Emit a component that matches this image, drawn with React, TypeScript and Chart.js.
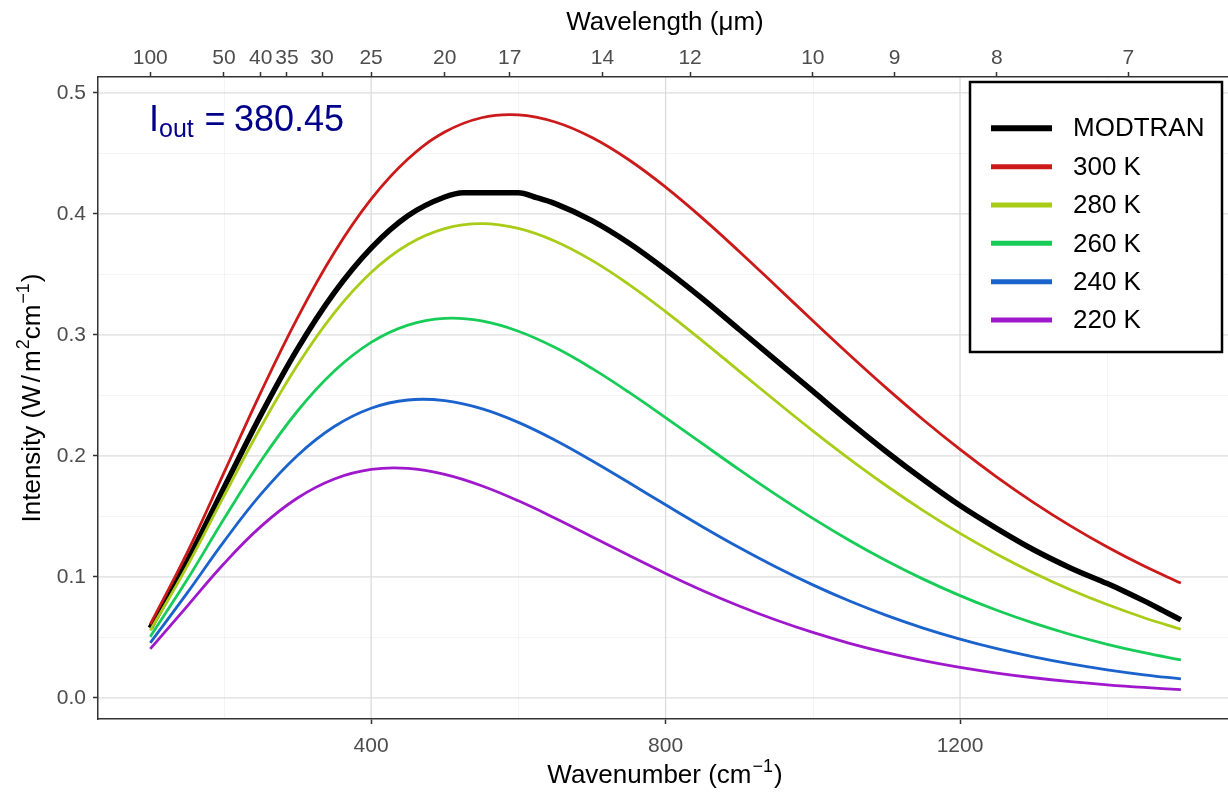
import { useEffect, useRef } from "react";
import { Chart, registerables } from "chart.js";

Chart.register(...registerables);

const FONT = "'Liberation Sans', Arial, Helvetica, sans-serif";

// Wavenumber grid (cm^-1) for the blackbody curves
const wavenumbers = [100, 150, 200, 250, 300, 350, 400, 450, 500, 550, 600, 650, 700, 750, 800, 850, 900, 950, 1000, 1050, 1100, 1150, 1200, 1250, 1300, 1350, 1400, 1450, 1500];

// Intensity (W/m^2 cm^-1)
const t300 = [0.0608, 0.11991, 0.18597, 0.25235, 0.31418, 0.36812, 0.41218, 0.44539, 0.46767, 0.47953, 0.4819, 0.47601, 0.46318, 0.44482, 0.42219, 0.39658, 0.36902, 0.34049, 0.31175, 0.28344, 0.25605, 0.22994, 0.20538, 0.18252, 0.16144, 0.14219, 0.12473, 0.109, 0.09492];
const t280 = [0.0557, 0.10873, 0.1668, 0.22372, 0.27514, 0.31828, 0.35164, 0.37477, 0.38794, 0.392, 0.38807, 0.3775, 0.36165, 0.34185, 0.3193, 0.2951, 0.27015, 0.24518, 0.2208, 0.19742, 0.17537, 0.15486, 0.136, 0.11884, 0.10335, 0.08949, 0.07718, 0.0663, 0.05676];
const t260 = [0.05062, 0.09763, 0.14786, 0.19562, 0.23715, 0.27022, 0.29391, 0.30818, 0.3137, 0.31157, 0.30306, 0.28956, 0.27237, 0.25274, 0.23169, 0.21012, 0.18872, 0.16802, 0.14842, 0.13016, 0.1134, 0.0982, 0.08457, 0.07246, 0.06179, 0.05246, 0.04436, 0.03737, 0.03137];
const t240 = [0.04556, 0.08663, 0.12921, 0.16819, 0.20043, 0.22432, 0.23945, 0.24626, 0.24571, 0.23909, 0.22774, 0.21301, 0.19608, 0.17801, 0.15962, 0.14156, 0.12432, 0.10822, 0.09345, 0.08011, 0.06822, 0.05774, 0.0486, 0.0407, 0.03392, 0.02814, 0.02326, 0.01914, 0.0157];
const t220 = [0.04053, 0.07575, 0.11092, 0.14158, 0.16525, 0.18097, 0.18885, 0.18972, 0.18479, 0.17542, 0.16294, 0.14855, 0.13325, 0.11784, 0.10291, 0.08887, 0.07599, 0.06439, 0.05413, 0.04516, 0.03743, 0.03084, 0.02526, 0.02059, 0.0167, 0.01348, 0.01084, 0.00869, 0.00693];

// MODTRAN spectrum
const modtranWavenumbers = [100, 150, 200, 250, 300, 350, 400, 450, 500, 525, 550, 575, 600, 625, 650, 700, 750, 800, 850, 900, 950, 1000, 1050, 1100, 1150, 1200, 1250, 1300, 1350, 1400, 1425, 1450, 1475, 1500];
const modtranIntensity = [0.0577, 0.1127, 0.1735, 0.2337, 0.2885, 0.335, 0.3718, 0.3985, 0.414, 0.4176, 0.4176, 0.4176, 0.4176, 0.4135, 0.4085, 0.3945, 0.376, 0.354, 0.33, 0.3045, 0.279, 0.2535, 0.228, 0.2035, 0.1805, 0.159, 0.14, 0.1225, 0.1075, 0.0945, 0.0876, 0.0802, 0.0724, 0.0645];

const seriesLabels = ["MODTRAN", "300 K", "280 K", "260 K", "240 K", "220 K"];
const seriesColors = ["#000000", "#CC1A1A", "#A8CC18", "#18CC58", "#1A62CC", "#A018CC"];

const xMajorTicks = [400, 800, 1200];
const xMinorGrid = [200, 600, 1000, 1400];
const yMajorTicks = [0, 0.1, 0.2, 0.3, 0.4, 0.5];
const yMinorGrid = [0.05, 0.15, 0.25, 0.35, 0.45];
const wavelengthTicks = [100, 50, 40, 35, 30, 25, 20, 17, 14, 12, 10, 9, 8, 7];
const outgoingFlux = "380.45";

const X_MIN = 29;
const X_MAX = 1564;
const Y_MIN = -0.0174;
const Y_MAX = 0.5132;

type Seg = { t: string; size: number; dy?: number; dx?: number };

function drawRich(ctx: CanvasRenderingContext2D, segs: Seg[], x: number, y: number, align: "left" | "center") {
  let total = 0;
  const widths = segs.map((s) => {
    ctx.font = `${s.size}px ${FONT}`;
    const w = ctx.measureText(s.t).width;
    total += w + (s.dx || 0);
    return w;
  });
  let cx = align === "center" ? x - total / 2 : x;
  ctx.textAlign = "left";
  ctx.textBaseline = "alphabetic";
  segs.forEach((s, i) => {
    cx += s.dx || 0;
    ctx.font = `${s.size}px ${FONT}`;
    ctx.fillText(s.t, cx, y + (s.dy || 0));
    cx += widths[i];
  });
}

const decorPlugin = {
  id: "decor",
  beforeDraw(chart: any) {
    const { ctx, chartArea: a, scales } = chart;
    const x = scales.x;
    const y = scales.y;
    ctx.save();
    ctx.beginPath();
    ctx.rect(a.left, a.top, a.right - a.left, a.bottom - a.top);
    ctx.clip();
    ctx.lineWidth = 0.7;
    ctx.strokeStyle = "#EFEFEF";
    for (const v of yMinorGrid) {
      const p = Math.round(y.getPixelForValue(v)) + 0.5;
      ctx.beginPath(); ctx.moveTo(a.left, p); ctx.lineTo(a.right, p); ctx.stroke();
    }
    for (const v of xMinorGrid) {
      const p = Math.round(x.getPixelForValue(v)) + 0.5;
      ctx.beginPath(); ctx.moveTo(p, a.top); ctx.lineTo(p, a.bottom); ctx.stroke();
    }
    ctx.lineWidth = 1.3;
    ctx.strokeStyle = "#DCDCDC";
    for (const v of yMajorTicks) {
      const p = y.getPixelForValue(v);
      ctx.beginPath(); ctx.moveTo(a.left, p); ctx.lineTo(a.right, p); ctx.stroke();
    }
    for (const v of xMajorTicks) {
      const p = x.getPixelForValue(v);
      ctx.beginPath(); ctx.moveTo(p, a.top); ctx.lineTo(p, a.bottom); ctx.stroke();
    }
    ctx.restore();
  },
  afterDraw(chart: any) {
    const { ctx, chartArea: a } = chart;
    const cxm = (a.left + 1232) / 2;
    ctx.save();
    ctx.fillStyle = "#000000";
    // top title
    drawRich(ctx, [{ t: "Wavelength (\u03BCm)", size: 26 }], cxm, 30, "center");
    // bottom title
    drawRich(ctx, [
      { t: "Wavenumber (cm", size: 26 },
      { t: "\u22121", size: 18, dy: -11, dx: 1 },
      { t: ")", size: 26, dx: 1 },
    ], cxm, 783, "center");
    // y title
    ctx.save();
    ctx.translate(40, (a.top + a.bottom) / 2);
    ctx.rotate(-Math.PI / 2);
    drawRich(ctx, [
      { t: "Intensity (W", size: 26 },
      { t: "/", size: 26, dx: 3 },
      { t: "m", size: 26, dx: 3 },
      { t: "2", size: 18, dy: -11, dx: 1 },
      { t: "cm", size: 26 },
      { t: "\u22121", size: 18, dy: -11, dx: 1 },
      { t: ")", size: 26, dx: 1 },
    ], 0, 0, "center");
    ctx.restore();

    // annotation
    ctx.fillStyle = "#00008B";
    ctx.textAlign = "left";
    ctx.textBaseline = "alphabetic";
    ctx.font = `36px ${FONT}`;
    ctx.fillText("I", 149, 131);
    ctx.font = `25px ${FONT}`;
    ctx.fillText("out", 159, 137);
    ctx.font = `36px ${FONT}`;
    ctx.textAlign = "center";
    ctx.fillText("=", 215, 131);
    ctx.textAlign = "left";
    ctx.fillText(outgoingFlux, 234, 131);

    // legend
    const bx = 970, by = 82, bw = 252, bh = 270;
    ctx.fillStyle = "#FFFFFF";
    ctx.fillRect(bx, by, bw, bh);
    ctx.lineWidth = 2.5;
    ctx.strokeStyle = "#000000";
    ctx.strokeRect(bx, by, bw, bh);
    const rowY0 = 128.3;
    const rowStep = 38.35;
    seriesLabels.forEach((lab, i) => {
      const ry = rowY0 + i * rowStep;
      ctx.strokeStyle = seriesColors[i];
      ctx.lineWidth = i === 0 ? 6 : 5;
      ctx.lineCap = "butt";
      ctx.beginPath(); ctx.moveTo(991, ry); ctx.lineTo(1052, ry); ctx.stroke();
      ctx.fillStyle = "#000000";
      ctx.font = `26px ${FONT}`;
      ctx.textAlign = "left";
      ctx.textBaseline = "middle";
      ctx.fillText(lab, 1073, ry + 1);
    });
    ctx.restore();
  },
};

export default function App() {
  const ref = useRef<HTMLCanvasElement | null>(null);

  useEffect(() => {
    if (!ref.current) return;
    const planck = [t300, t280, t260, t240, t220];
    const datasets: any[] = [
      {
        label: seriesLabels[0],
        data: modtranWavenumbers.map((x, i) => ({ x, y: modtranIntensity[i] })),
        borderColor: seriesColors[0],
        borderWidth: 5.5,
        pointRadius: 0,
        cubicInterpolationMode: "monotone",
        order: 10,
        xAxisID: "x",
        yAxisID: "y",
      },
      ...planck.map((vals, k) => ({
        label: seriesLabels[k + 1],
        data: wavenumbers.map((x, i) => ({ x, y: vals[i] })),
        borderColor: seriesColors[k + 1],
        borderWidth: 2.8,
        pointRadius: 0,
        tension: 0.4,
        order: k + 1,
        xAxisID: "x",
        yAxisID: "y",
      })),
    ];

    const tickFont = { family: FONT, size: 21 };
    const chart = new Chart(ref.current, {
      type: "line",
      data: { datasets },
      plugins: [decorPlugin],
      options: {
        animation: false,
        responsive: false,
        devicePixelRatio: 1,
        events: [],
        layout: { padding: 0 },
        plugins: { legend: { display: false }, tooltip: { enabled: false } },
        scales: {
          x: {
            type: "linear",
            position: "bottom",
            min: X_MIN,
            max: X_MAX,
            bounds: "data",
            afterBuildTicks: (s: any) => { s.ticks = xMajorTicks.map((v) => ({ value: v })); },
            afterFit: (s: any) => { s.height = 75; },
            ticks: { font: tickFont, color: "#4D4D4D", padding: 10, autoSkip: false, maxRotation: 0, callback: (v: any) => String(v) },
            grid: { drawOnChartArea: false, drawTicks: true, tickLength: 5, tickColor: "#333333", tickWidth: 1.5 },
            border: { display: true, color: "#333333", width: 1.5 },
          },
          x2: {
            type: "linear",
            position: "top",
            min: X_MIN,
            max: X_MAX,
            bounds: "data",
            afterBuildTicks: (s: any) => { s.ticks = wavelengthTicks.map((l) => ({ value: 10000 / l })); },
            afterFit: (s: any) => { s.height = 77; },
            ticks: { font: tickFont, color: "#4D4D4D", padding: 1, autoSkip: false, maxRotation: 0, callback: (_v: any, i: number) => String(wavelengthTicks[i]) },
            grid: { drawOnChartArea: false, drawTicks: true, tickLength: 5, tickColor: "#333333", tickWidth: 1.5 },
            border: { display: true, color: "#333333", width: 1.5 },
          },
          y: {
            type: "linear",
            position: "left",
            min: Y_MIN,
            max: Y_MAX,
            bounds: "data",
            afterBuildTicks: (s: any) => { s.ticks = yMajorTicks.map((v) => ({ value: v })); },
            afterFit: (s: any) => { s.width = 98; },
            ticks: { font: tickFont, color: "#4D4D4D", padding: 7, autoSkip: false, callback: (v: any) => Number(v).toFixed(1) },
            grid: { drawOnChartArea: false, drawTicks: true, tickLength: 5, tickColor: "#333333", tickWidth: 1.5 },
            border: { display: true, color: "#333333", width: 1.5 },
          },
        },
      } as any,
    });
    return () => chart.destroy();
  }, []);

  return (
    <div style={{ position: "absolute", left: 0, top: 0, width: 1228, height: 794, background: "#FFFFFF" }}>
      <canvas ref={ref} width={1228} height={794} />
    </div>
  );
}
